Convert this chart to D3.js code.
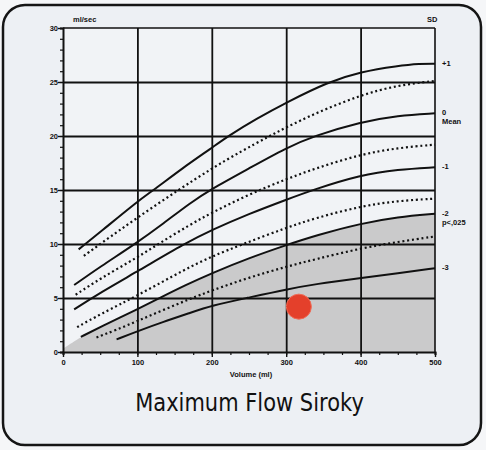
<!DOCTYPE html>
<html>
<head>
<meta charset="utf-8">
<script src="https://cdn.jsdelivr.net/npm/d3@7"></script>
<style>
  html, body { margin: 0; padding: 0; background: #f5f6f8; }
  svg { display: block; }
</style>
</head>
<body>
<svg id="chart" width="486" height="450"></svg>
<script>
// ---- data ----
const xTickValues = [0, 100, 200, 300, 400, 500];
const yTickValues = [0, 5, 10, 15, 20, 25, 30];
const xLabel = "Volume (ml)";
const yLabel = "ml/sec";
const sdTitle = "SD";
const chartTitle = "Maximum Flow Siroky";

// percentile / SD curves : [volume ml, flow ml/sec]
const sdPlus1   = [[21,9.5],[50,11.1],[101,14.0],[122,15.0],[160,17.0],[200,18.9],[222,20.0],[260,21.6],[300,23.1],[356,25.0],[400,25.95],[450,26.5],[480,26.7],[500,26.7]];
const sdPlus05  = [[28,8.9],[50,10.0],[101,12.5],[155,15.0],[200,17.0],[240,18.6],[275,19.9],[300,20.8],[339,22.1],[400,23.8],[450,24.7],[500,25.1]];
const sdMean    = [[15,6.2],[50,7.9],[97,10.0],[135,11.9],[171,13.8],[197,15.0],[250,17.0],[300,18.9],[337,20.0],[400,21.3],[450,21.9],[500,22.1]];
const sdMinus05 = [[17,5.3],[50,6.8],[101,8.8],[128,10.0],[171,11.8],[200,12.9],[250,14.6],[300,16.0],[339,17.0],[400,18.3],[450,18.9],[500,19.2]];
const sdMinus1  = [[15,3.95],[50,5.5],[101,7.5],[165,10.1],[200,11.3],[250,12.8],[300,14.1],[335,15.0],[400,16.4],[450,16.9],[500,17.1]];
const sdMinus15 = [[19,2.3],[50,3.5],[101,5.25],[165,7.7],[200,8.85],[242,10.0],[300,11.5],[339,12.4],[400,13.5],[450,14.0],[500,14.2]];
const sdMinus2  = [[24,1.4],[50,2.3],[101,4.0],[130,5.0],[165,6.2],[200,7.3],[250,8.7],[300,9.9],[340,10.8],[400,11.9],[450,12.5],[500,12.8]];
const sdMinus25 = [[45,1.35],[70,2.0],[101,2.9],[135,3.9],[170,4.9],[200,5.7],[250,6.9],[300,7.9],[340,8.6],[400,9.6],[450,10.2],[500,10.7]];
const sdMinus3  = [[72,1.17],[101,1.95],[135,2.8],[170,3.6],[200,4.3],[247,5.0],[300,5.8],[340,6.3],[400,6.85],[450,7.3],[500,7.75]];
const shadeStart = [[0,0.3]];            // left edge of grey (abnormal) zone
const patientPoint = [317, 4.2];         // measured value (volume, Qmax)

const solidCurves  = [sdPlus1, sdMean, sdMinus1, sdMinus2, sdMinus3];
const dottedCurves = [sdPlus05, sdMinus05, sdMinus15, sdMinus25];
const curveLabels = [
  { curve: sdPlus1,  lines: ["+1"] },
  { curve: sdMean,   lines: ["0", "Mean"] },
  { curve: sdMinus1, lines: ["-1"] },
  { curve: sdMinus2, lines: ["-2", "p<,025"] },
  { curve: sdMinus3, lines: ["-3"] }
];

// ---- drawing ----
const svg = d3.select("#chart");

// card
svg.append("rect").attr("x", 3).attr("y", 5).attr("width", 478).attr("height", 440)
  .attr("rx", 22).attr("ry", 22)
  .attr("fill", "#edf0f4").attr("stroke", "#151515").attr("stroke-width", 2.5);

const x = d3.scaleLinear().domain([0, 500]).range([63, 435]);
const y = d3.scaleLinear().domain([0, 30]).range([352, 28]);

// plot background
svg.append("rect").attr("x", x(0)).attr("y", y(30))
  .attr("width", x(500) - x(0)).attr("height", y(0) - y(30))
  .attr("fill", "#f1f3f6");

// grey zone under -2 SD
const area = d3.area().x(d => x(d[0])).y0(y(0)).y1(d => y(d[1])).curve(d3.curveBasis);
svg.append("path").datum(shadeStart.concat(sdMinus2))
  .attr("d", area).attr("fill", "#cacacb");

// grid lines
const gridY = d3.axisLeft(y).tickValues([5, 10, 15, 20, 25]).tickSize(-(x(500) - x(0))).tickFormat("");
svg.append("g").attr("transform", `translate(${x(0)},0)`).call(gridY)
  .call(g => g.select(".domain").remove())
  .call(g => g.selectAll("line").attr("stroke", "#111").attr("stroke-width", 1.8));
const gridX = d3.axisBottom(x).tickValues([100, 200, 300, 400]).tickSize(-(y(0) - y(30))).tickFormat("");
svg.append("g").attr("transform", `translate(0,${y(0)})`).call(gridX)
  .call(g => g.select(".domain").remove())
  .call(g => g.selectAll("line").attr("stroke", "#111").attr("stroke-width", 1.8));

// frame (top and right)
svg.append("line").attr("x1", x(0)).attr("x2", x(500)).attr("y1", y(30)).attr("y2", y(30))
  .attr("stroke", "#111").attr("stroke-width", 1.4);
svg.append("line").attr("x1", x(500)).attr("x2", x(500)).attr("y1", y(30)).attr("y2", y(0))
  .attr("stroke", "#111").attr("stroke-width", 1.6);

// curves
const line = d3.line().x(d => x(d[0])).y(d => y(d[1])).curve(d3.curveBasis);
svg.append("g").selectAll("path").data(solidCurves).join("path")
  .attr("d", line).attr("fill", "none").attr("stroke", "#111").attr("stroke-width", 2);
svg.append("g").selectAll("path").data(dottedCurves).join("path")
  .attr("d", line).attr("fill", "none").attr("stroke", "#111").attr("stroke-width", 2.2)
  .attr("stroke-dasharray", "2,2.8");

// axes
const tickFont = "Liberation Sans, Arial, sans-serif";
const yMinor = d3.axisLeft(y).tickValues(d3.range(0, 31, 1)).tickSize(3).tickFormat("");
svg.append("g").attr("transform", `translate(${x(0)},0)`).call(yMinor)
  .call(g => g.select(".domain").attr("stroke", "#111").attr("stroke-width", 2))
  .call(g => g.selectAll("line").attr("stroke", "#111").attr("stroke-width", 1.2));
const yMajor = d3.axisLeft(y).tickValues(yTickValues).tickSize(5).tickPadding(0);
svg.append("g").attr("transform", `translate(${x(0)},0)`).call(yMajor)
  .call(g => g.select(".domain").remove())
  .call(g => g.selectAll("line").attr("stroke", "#111").attr("stroke-width", 1.4))
  .call(g => g.selectAll("text").attr("font-family", tickFont).attr("font-weight", "bold")
    .attr("font-size", 7.5).attr("fill", "#111"));

const xMinor = d3.axisBottom(x).tickValues(d3.range(0, 501, 25)).tickSize(3).tickFormat("");
svg.append("g").attr("transform", `translate(0,${y(0)})`).call(xMinor)
  .call(g => g.select(".domain").attr("stroke", "#111").attr("stroke-width", 2))
  .call(g => g.selectAll("line").attr("stroke", "#111").attr("stroke-width", 1.2));
const xMajor = d3.axisBottom(x).tickValues(xTickValues).tickSize(5).tickPadding(3);
svg.append("g").attr("transform", `translate(0,${y(0)})`).call(xMajor)
  .call(g => g.select(".domain").remove())
  .call(g => g.selectAll("line").attr("stroke", "#111").attr("stroke-width", 1.4))
  .call(g => g.selectAll("text").attr("font-family", tickFont).attr("font-weight", "bold")
    .attr("font-size", 7.5).attr("fill", "#111"));

// axis titles
svg.append("text").attr("x", x(250) + 2).attr("y", 377).attr("text-anchor", "middle")
  .attr("font-family", tickFont).attr("font-weight", "bold").attr("font-size", 7.5)
  .attr("fill", "#111").text(xLabel);
svg.append("text").attr("x", x(0) + 10).attr("y", 22)
  .attr("font-family", tickFont).attr("font-weight", "bold").attr("font-size", 7.5)
  .attr("fill", "#111").text(yLabel);
svg.append("text").attr("x", x(500) - 8).attr("y", 22)
  .attr("font-family", tickFont).attr("font-weight", "bold").attr("font-size", 7.5)
  .attr("fill", "#111").text(sdTitle);

// SD labels at right, aligned with curve ends
curveLabels.forEach(cl => {
  const last = cl.curve[cl.curve.length - 1];
  const t = svg.append("text").attr("x", x(500) + 7).attr("y", y(last[1]) + 2)
    .attr("font-family", tickFont).attr("font-weight", "bold").attr("font-size", 7.5)
    .attr("fill", "#111");
  cl.lines.forEach((s, i) => {
    t.append("tspan").attr("x", x(500) + 7).attr("dy", i === 0 ? 0 : 9).text(s);
  });
});

// patient point
svg.append("circle").attr("cx", x(patientPoint[0])).attr("cy", y(patientPoint[1]))
  .attr("r", 12.5).attr("fill", "#e4402b").attr("stroke", "#f06a55").attr("stroke-width", 1);

// title (slightly taller glyphs as in the reference)
svg.append("text").attr("transform", "translate(249.5,411) scale(1,1.18)")
  .attr("text-anchor", "middle")
  .attr("font-family", "DejaVu Sans, Verdana, sans-serif").attr("font-size", 21)
  .attr("fill", "#111").text(chartTitle);
</script>
</body>
</html>
